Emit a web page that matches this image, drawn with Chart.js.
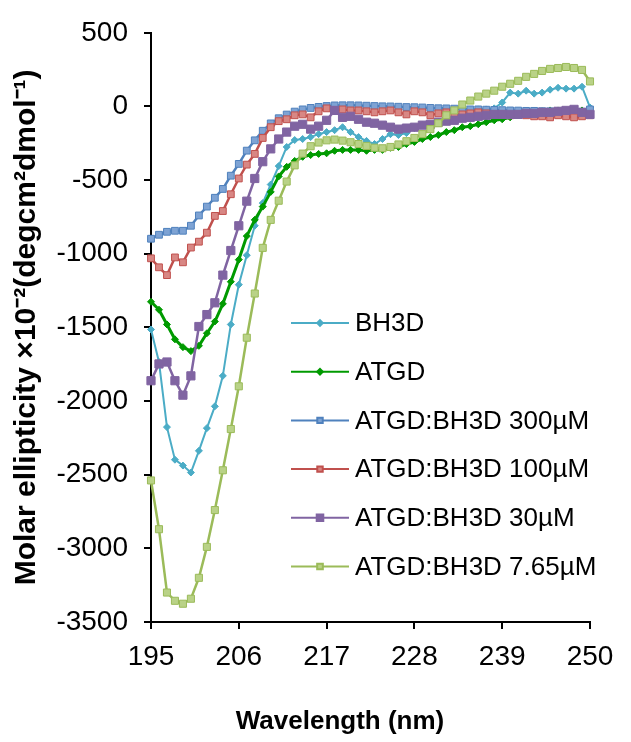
<!DOCTYPE html>
<html>
<head>
<meta charset="utf-8">
<script src="https://cdn.jsdelivr.net/npm/chart.js@4.4.0/dist/chart.umd.min.js"></script>
<style>
  html, body { margin: 0; padding: 0; background: #fff; }
  #wrap { width: 631px; height: 742px; }
</style>
</head>
<body>
<div id="wrap"><canvas id="c" width="631" height="742"></canvas></div>
<script>
// CD spectra, molar ellipticity x10^-2 at 1 nm steps
const wavelengths = [195, 196, 197, 198, 199, 200, 201, 202, 203, 204, 205, 206, 207, 208, 209, 210,
  211, 212, 213, 214, 215, 216, 217, 218, 219, 220, 221, 222, 223, 224, 225, 226, 227, 228, 229, 230,
  231, 232, 233, 234, 235, 236, 237, 238, 239, 240, 241, 242, 243, 244, 245, 246, 247, 248, 249, 250];

const bh3d = [-1514, -1735, -2177, -2398, -2438, -2485, -2338, -2184, -2036, -1829, -1480, -1210, -1010, -810, -656, -530,
  -405, -275, -228, -221, -208, -188, -174, -161, -141, -174, -208, -234, -255, -221, -188, -194, -181, -147, -127, -121,
  -107, -94, -80, -60, -33, -20, -20, -13, 27, 94, 87, 107, 87, 94, 114, 127, 121, 121, 134, -7];

const atgd = [-1326, -1380, -1480, -1581, -1634, -1661, -1625, -1540, -1460, -1340, -1190, -1040, -880, -770, -680, -580,
  -475, -410, -370, -342, -330, -322, -318, -301, -295, -295, -295, -301, -295, -295, -281, -275, -255, -241, -221, -208,
  -194, -174, -161, -141, -134, -121, -107, -94, -87, -74, -60, -47, -40, -33, -27, -27, -27, -27, -27, -33];

const mix300 = [-898, -871, -851, -844, -844, -810, -740, -680, -620, -560, -470, -390, -300, -230, -165, -115,
  -80, -55, -35, -20, -10, -3, 3, 7, 8, 8, 7, 5, 3, 1, 0, -2, -4, -5, -7, -10,
  -12, -13, -15, -17, -20, -20, -22, -24, -25, -27, -28, -30, -30, -32, -33, -33, -35, -35, -36, -20];

const mix100 = [-1031, -1092, -1145, -1025, -1058, -958, -918, -857, -743, -710, -596, -489, -395, -322, -214, -141,
  -100, -87, -60, -54, -74, -33, -13, -27, -20, -27, -27, -33, -40, -33, -27, -40, -54, -33, -40, -60,
  -47, -40, -47, -54, -47, -40, -47, -54, -54, -60, -54, -60, -67, -67, -74, -60, -67, -74, -67, -60];

const mix30 = [-1862, -1748, -1735, -1862, -1960, -1829, -1494, -1413, -1333, -1145, -978, -810, -643, -489, -375, -288,
  -221, -174, -134, -121, -154, -134, -94, -27, -74, -67, -87, -107, -114, -127, -141, -154, -147, -141, -127, -121,
  -107, -100, -94, -80, -74, -67, -60, -54, -54, -54, -54, -47, -47, -40, -40, -33, -27, -20, -40, -54];

const mix765 = [-2539, -2870, -3300, -3356, -3376, -3342, -3200, -2990, -2740, -2470, -2190, -1900, -1570, -1270, -960, -770,
  -640, -510, -400, -320, -270, -245, -230, -225, -232, -243, -255, -268, -280, -284, -275, -258, -236, -214, -188, -154,
  -114, -60, -27, 13, 40, 67, 87, 107, 134, 154, 174, 201, 221, 241, 255, 261, 268, 261, 248, 170];

const xTicks = [195, 206, 217, 228, 239, 250];
const yTicks = [-3500, -3000, -2500, -2000, -1500, -1000, -500, 0, 500];

const seriesNames = ['BH3D', 'ATGD', 'ATGD:BH3D 300µM', 'ATGD:BH3D 100µM', 'ATGD:BH3D 30µM', 'ATGD:BH3D 7.65µM'];
const seriesValues = [bh3d, atgd, mix300, mix100, mix30, mix765];
const lineColors = ['#4BACC6', '#009A00', '#4F81BD', '#C0504D', '#8064A2', '#9BBB59'];
const fillColors = ['#4BACC6', '#009A00', '#7EA3D4', '#D88784', '#8064A2', '#B9D287'];
const markers = ['rectRot', 'rectRot', 'rect', 'rect', 'rect', 'rect'];
const markerSizes = [3.5, 3.5, 4.8, 4.8, 5.8, 5];
const lineWidths = [2, 3, 2.5, 2.5, 2.5, 2.5];

const FONT = '"Liberation Sans", Arial, sans-serif';
Chart.defaults.font.family = FONT;

const datasets = seriesNames.map((name, i) => ({
  label: name,
  data: wavelengths.map((w, j) => ({ x: w, y: seriesValues[i][j] })),
  borderColor: lineColors[i],
  borderWidth: lineWidths[i],
  pointStyle: markers[i],
  pointRadius: markerSizes[i],
  pointBackgroundColor: fillColors[i],
  pointBorderColor: lineColors[i],
  pointBorderWidth: 1,
  tension: 0,
  clip: false,
  order: seriesNames.length - i
}));

// legend and x title drawn by hand, placed like the Excel original
const boxLegend = {
  id: 'boxLegend',
  afterDraw(chart) {
    const ctx = chart.ctx;
    ctx.save();
    ctx.font = '26px ' + FONT;
    ctx.textBaseline = 'middle';
    chart.data.datasets.forEach((ds, i) => {
      const y = 323 + i * 48.7;
      ctx.strokeStyle = ds.borderColor;
      ctx.lineWidth = 2;
      ctx.beginPath();
      ctx.moveTo(291, y);
      ctx.lineTo(349, y);
      ctx.stroke();
      ctx.fillStyle = ds.pointBackgroundColor;
      ctx.strokeStyle = ds.pointBorderColor;
      Chart.helpers.drawPoint(ctx, { pointStyle: ds.pointStyle, radius: ds.pointRadius * 0.8, borderWidth: 1, rotation: 0 }, 320, y);
      ctx.fillStyle = '#000';
      ctx.fillText(ds.label, 355, y + 1);
    });
    ctx.font = 'bold 26px ' + FONT;
    ctx.textAlign = 'center';
    ctx.fillText('Wavelength (nm)', 340, 722);
    ctx.restore();
  }
};

new Chart(document.getElementById('c'), {
  type: 'line',
  data: { datasets },
  options: {
    responsive: false,
    animation: false,
    devicePixelRatio: 1,
    layout: { padding: { left: 0, right: 41, top: 25, bottom: 0 } },
    plugins: {
      legend: { display: false },
      tooltip: { enabled: false }
    },
    scales: {
      x: {
        type: 'linear',
        min: 195,
        max: 250,
        afterBuildTicks: s => { s.ticks = xTicks.map(v => ({ value: v })); },
        afterFit: s => { s.height = 120; },
        grid: { drawOnChartArea: false, drawTicks: true, tickLength: 7, color: '#000', lineWidth: 2 },
        border: { display: true, color: '#000', width: 2 },
        ticks: { color: '#000', font: { size: 28 }, padding: 11, maxRotation: 0, autoSkip: false },
        title: { display: false }
      },
      y: {
        min: -3500,
        max: 500,
        afterBuildTicks: s => { s.ticks = yTicks.map(v => ({ value: v })); },
        afterFit: s => { s.width = 151; },
        grid: { drawOnChartArea: false, drawTicks: true, tickLength: 7, color: '#000', lineWidth: 2 },
        border: { display: true, color: '#000', width: 2 },
        ticks: { color: '#000', font: { size: 28 }, padding: 16, callback: v => String(v) },
        title: { display: true, text: 'Molar ellipticity ×10⁻²(degcm²dmol⁻¹)', color: '#000', font: { size: 30, weight: 'bold' }, padding: { top: 9, bottom: 0 } }
      }
    }
  },
  plugins: [boxLegend]
});
</script>
</body>
</html>
